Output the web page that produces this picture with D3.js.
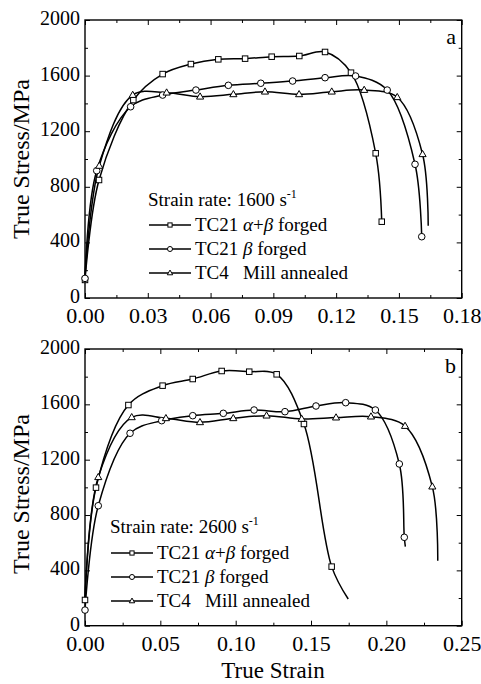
<!DOCTYPE html>
<html>
<head>
<meta charset="utf-8">
<script src="https://cdn.jsdelivr.net/npm/d3@7"></script>
<style>
  body { margin: 0; background: #fff; }
  svg { display: block; }
  text { font-family: "Liberation Serif", "Times New Roman", serif; fill: #000; }
</style>
</head>
<body>
<svg id="chart" width="481" height="684" font-family="Liberation Serif, Times New Roman, serif"></svg>
<script>
// [strain, stress, marker?]
let aAlphaBeta = [[0,130,1],[0.0067,849,1],[0.0231,1424,1],[0.0371,1611,1],[0.0506,1683,1],[0.0637,1717,1],
  [0.0765,1722,1],[0.0892,1736,1],[0.1024,1741,1],[0.1147,1770,1],[0.1271,1621,1],[0.1389,1041,1],[0.1418,549,1]];
let aBeta = [[0,141,1],[0.0056,916,1],[0.0218,1376,1],[0.0371,1460,1],[0.053,1496,1],[0.0685,1530,1],
  [0.084,1545,1],[0.0992,1561,1],[0.1147,1585,1],[0.1293,1597,1],[0.1444,1496,1],[0.1577,962,1],[0.1609,441,1]];
let aTC4 = [[0,150,0],[0.0068,950,1],[0.0228,1460,1],[0.039,1477,1],[0.055,1448,1],[0.0709,1465,1],
  [0.086,1484,1],[0.1023,1465,1],[0.1179,1484,1],[0.1334,1496,1],[0.1492,1444,1],[0.1613,1034,1],[0.164,520,0]];

let bAlphaBeta = [[0,186,1],[0.0073,998,1],[0.0288,1595,1],[0.0515,1735,1],[0.0715,1783,1],[0.0907,1841,1],
  [0.109,1836,1],[0.1272,1817,1],[0.1453,1458,1],[0.1637,427,1],[0.1747,193,0]];
let bBeta = [[0,113,1],[0.0088,867,1],[0.0299,1391,1],[0.0509,1482,1],[0.0715,1518,1],[0.0918,1535,1],
  [0.1122,1559,1],[0.1327,1547,1],[0.1533,1588,1],[0.173,1612,1],[0.1927,1559,1],[0.2086,1169,1],
  [0.2119,639,1],[0.2126,571,0]];
let bTC4 = [[0,180,0],[0.0088,1073,1],[0.031,1506,1],[0.0537,1499,1],[0.0763,1470,1],[0.0984,1499,1],
  [0.1205,1518,1],[0.1438,1494,1],[0.1666,1504,1],[0.1898,1511,1],[0.2124,1443,1],[0.2305,1005,1],[0.2341,470,0]];

let xTicksA = [0, 0.03, 0.06, 0.09, 0.12, 0.15, 0.18];
let xTicksB = [0, 0.05, 0.10, 0.15, 0.20, 0.25];
let yTicks = [0, 400, 800, 1200, 1600, 2000];
let seriesNames = ["TC21 α+β forged", "TC21 β forged", "TC4 Mill annealed"];
let markerTypes = ["square", "circle", "triangle"];

let panels = [
  {label: "a", rate: "1600", xMax: 0.18, xTicks: xTicksA, data: [aAlphaBeta, aBeta, aTC4],
   top: 20, bottom: 298, legX: 148, legY: 206, legLineX: 149, legRow0: 225},
  {label: "b", rate: "2600", xMax: 0.25, xTicks: xTicksB, data: [bAlphaBeta, bBeta, bTC4],
   top: 349, bottom: 625.7, legX: 110, legY: 533, legLineX: 111, legRow0: 553}
];

const SERIF = "Liberation Serif, Times New Roman, serif";
let svg = d3.select("#chart");
let left = 85, right = 461.7;

function drawMarker(g, type, x, y, s) {
  if (type === "square") {
    g.append("rect").attr("x", x - s/2).attr("y", y - s/2).attr("width", s).attr("height", s)
      .attr("fill", "#fff").attr("stroke", "#000").attr("stroke-width", 1);
  } else if (type === "circle") {
    g.append("circle").attr("cx", x).attr("cy", y).attr("r", s * 0.6)
      .attr("fill", "#fff").attr("stroke", "#000").attr("stroke-width", 1);
  } else {
    let h = s * 1.3 * Math.sqrt(3) / 2, w = s * 1.3;
    g.append("path").attr("d", `M${x},${y - h*0.62}L${x + w/2},${y + h*0.38}L${x - w/2},${y + h*0.38}Z`)
      .attr("fill", "#fff").attr("stroke", "#000").attr("stroke-width", 1);
  }
}

panels.forEach(p => {
  let x = d3.scaleLinear().domain([0, p.xMax]).range([left, right]);
  let y = d3.scaleLinear().domain([0, 2000]).range([p.bottom, p.top]);
  let g = svg.append("g");

  // minor ticks
  let xStep = p.xTicks[1] - p.xTicks[0];
  let xMinor = p.xTicks.slice(0, -1).map(t => t + xStep / 2);
  let yMinor = yTicks.slice(0, -1).map(t => t + 200);

  let noText = ax => ax.tickFormat("").tickSizeOuter(0);
  g.append("g").attr("transform", `translate(0,${p.bottom})`)
    .call(noText(d3.axisBottom(x).tickValues(xMinor).tickSizeInner(-3)));
  g.append("g").attr("transform", `translate(0,${p.top})`)
    .call(noText(d3.axisTop(x).tickValues(xMinor).tickSizeInner(-3)));
  g.append("g").attr("transform", `translate(${left},0)`)
    .call(noText(d3.axisLeft(y).tickValues(yMinor).tickSizeInner(-3)));
  g.append("g").attr("transform", `translate(${right},0)`)
    .call(noText(d3.axisRight(y).tickValues(yMinor).tickSizeInner(-3)));
  g.append("g").attr("transform", `translate(0,${p.top})`)
    .call(noText(d3.axisTop(x).tickValues(p.xTicks).tickSizeInner(-5)));
  g.append("g").attr("transform", `translate(${right},0)`)
    .call(noText(d3.axisRight(y).tickValues(yTicks).tickSizeInner(-5)));

  let xAx = g.append("g").attr("transform", `translate(0,${p.bottom})`)
    .call(d3.axisBottom(x).tickValues(p.xTicks).tickFormat(d3.format(".2f")).tickSizeInner(-5).tickSizeOuter(0));
  xAx.attr("font-family", SERIF).attr("font-size", 22);
  xAx.selectAll("text").attr("y", 25).attr("dy", null);
  let yAx = g.append("g").attr("transform", `translate(${left},0)`)
    .call(d3.axisLeft(y).tickValues(yTicks).tickFormat(d3.format("d")).tickSizeInner(-5).tickSizeOuter(0).tickPadding(5));
  yAx.attr("font-family", SERIF).attr("font-size", 20);
  yAx.selectAll("text").attr("dy", "0.22em");

  g.selectAll(".domain").remove();
  g.selectAll(".tick line").attr("stroke", "#000").attr("stroke-width", 1);

  g.append("rect").attr("x", left).attr("y", p.top).attr("width", right - left).attr("height", p.bottom - p.top)
    .attr("fill", "none").attr("stroke", "#000").attr("stroke-width", 1.4);

  // curves
  let line = d3.line().x(d => x(d[0])).y(d => y(d[1])).curve(d3.curveCatmullRom.alpha(0.5));
  p.data.forEach(s => {
    g.append("path").attr("d", line(s)).attr("fill", "none").attr("stroke", "#000").attr("stroke-width", 1.5);
  });
  p.data.forEach((s, i) => {
    s.filter(d => d[2]).forEach(d => drawMarker(g, markerTypes[i], x(d[0]), y(d[1]), 5.5));
  });

  // panel label
  g.append("text").attr("x", 456).attr("y", p.top + 24).attr("text-anchor", "end")
    .style("font-size", "22px").text(p.label);

  // legend
  let t = g.append("text").attr("x", p.legX).attr("y", p.legY).style("font-size", "19px");
  t.append("tspan").text(`Strain rate: ${p.rate} s`);
  t.append("tspan").attr("dy", -8).style("font-size", "12px").text("-1");

  seriesNames.forEach((name, i) => {
    let ly = p.legRow0 + i * 24;
    g.append("line").attr("x1", p.legLineX).attr("x2", p.legLineX + 42).attr("y1", ly).attr("y2", ly)
      .attr("stroke", "#000").attr("stroke-width", 1.5);
    drawMarker(g, markerTypes[i], p.legLineX + 21, ly, 4.2);
    let tt = g.append("text").attr("x", p.legLineX + 46).attr("y", ly + 6).style("font-size", "19px");
    if (i === 0) {
      tt.append("tspan").text("TC21 ");
      tt.append("tspan").style("font-style", "italic").text("α");
      tt.append("tspan").text("+");
      tt.append("tspan").style("font-style", "italic").text("β");
      tt.append("tspan").text(" forged");
    } else if (i === 1) {
      tt.append("tspan").text("TC21 ");
      tt.append("tspan").style("font-style", "italic").text("β");
      tt.append("tspan").text(" forged");
    } else {
      tt.append("tspan").text("TC4\u00a0\u00a0 Mill annealed");
    }
  });
});

// axis titles
svg.append("text").attr("transform", "translate(29,159) rotate(-90)").attr("text-anchor", "middle")
  .style("font-size", "24px").text("True Stress/MPa");
svg.append("text").attr("transform", "translate(29,494) rotate(-90)").attr("text-anchor", "middle")
  .style("font-size", "24px").text("True Stress/MPa");
svg.append("text").attr("x", 273).attr("y", 678).attr("text-anchor", "middle")
  .style("font-size", "23px").text("True Strain");
</script>
</body>
</html>
